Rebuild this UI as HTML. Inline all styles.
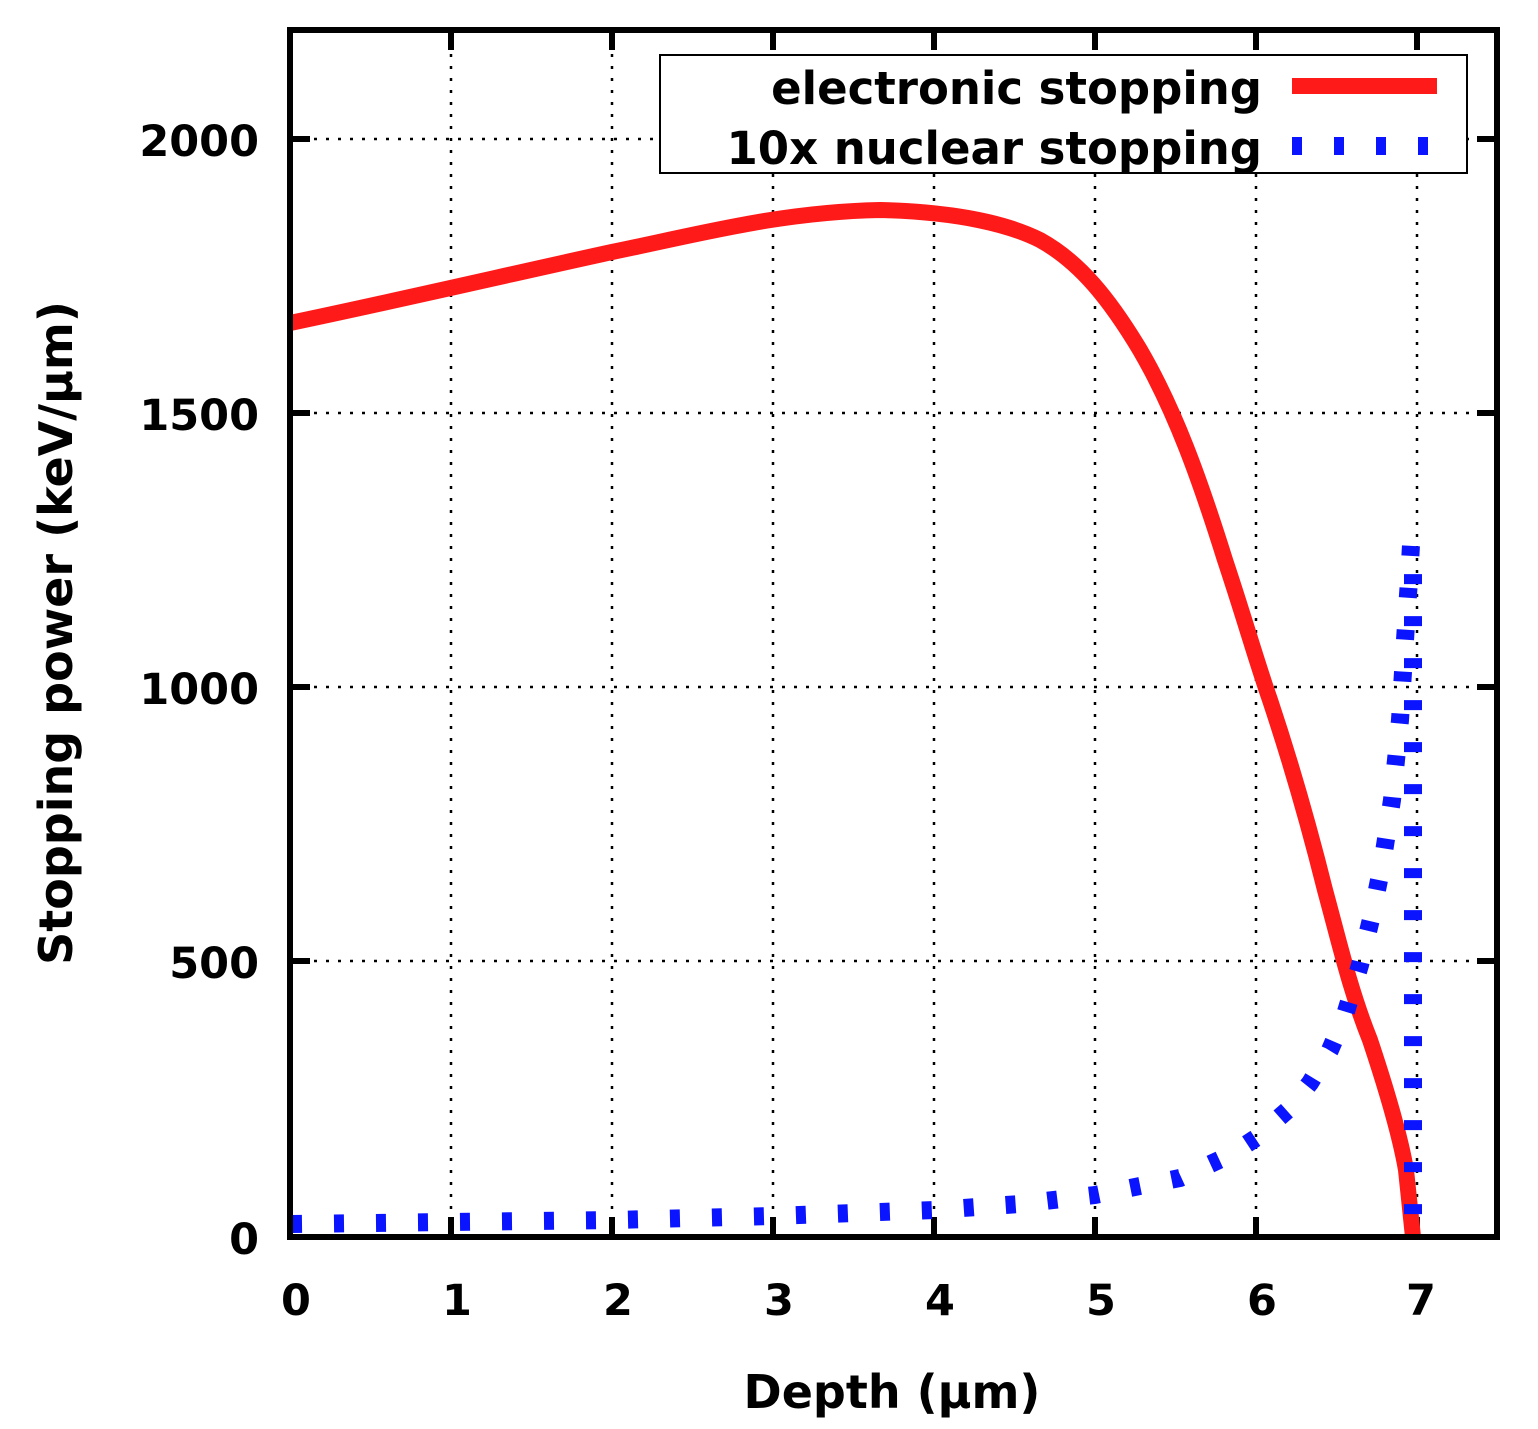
<!DOCTYPE html>
<html><head><meta charset="utf-8"><style>
html,body{margin:0;padding:0;background:#fff}
svg{display:block}
text{font-family:"DejaVu Sans","Liberation Sans",sans-serif;font-weight:bold;fill:#000}
</style></head><body>
<svg width="1538" height="1429" viewBox="0 0 1538 1429" xmlns="http://www.w3.org/2000/svg">
<g stroke="#000" stroke-width="2.5" stroke-dasharray="3 9" fill="none">
<line x1="451" y1="30" x2="451" y2="1237"/>
<line x1="612" y1="30" x2="612" y2="1237"/>
<line x1="773" y1="30" x2="773" y2="1237"/>
<line x1="934" y1="30" x2="934" y2="1237"/>
<line x1="1095" y1="30" x2="1095" y2="1237"/>
<line x1="1256" y1="30" x2="1256" y2="1237"/>
<line x1="1417" y1="30" x2="1417" y2="1237"/>
<line x1="290" y1="961" x2="1497" y2="961"/>
<line x1="290" y1="687" x2="1497" y2="687"/>
<line x1="290" y1="413" x2="1497" y2="413"/>
<line x1="290" y1="139" x2="1497" y2="139"/>
</g>
<g stroke="#000" stroke-width="6">
<line x1="451" y1="1237" x2="451" y2="1217"/><line x1="451" y1="30" x2="451" y2="50"/>
<line x1="612" y1="1237" x2="612" y2="1217"/><line x1="612" y1="30" x2="612" y2="50"/>
<line x1="773" y1="1237" x2="773" y2="1217"/><line x1="773" y1="30" x2="773" y2="50"/>
<line x1="934" y1="1237" x2="934" y2="1217"/><line x1="934" y1="30" x2="934" y2="50"/>
<line x1="1095" y1="1237" x2="1095" y2="1217"/><line x1="1095" y1="30" x2="1095" y2="50"/>
<line x1="1256" y1="1237" x2="1256" y2="1217"/><line x1="1256" y1="30" x2="1256" y2="50"/>
<line x1="1417" y1="1237" x2="1417" y2="1217"/><line x1="1417" y1="30" x2="1417" y2="50"/>
<line x1="290" y1="961" x2="310" y2="961"/><line x1="1497" y1="961" x2="1477" y2="961"/>
<line x1="290" y1="687" x2="310" y2="687"/><line x1="1497" y1="687" x2="1477" y2="687"/>
<line x1="290" y1="413" x2="310" y2="413"/><line x1="1497" y1="413" x2="1477" y2="413"/>
<line x1="290" y1="139" x2="310" y2="139"/><line x1="1497" y1="139" x2="1477" y2="139"/>
</g>
<path d="M290,323 C400,300 520,272 612,252 C700,234 780,212 880,210 C960,212 1010,225 1040,240 C1080,262 1110,300 1140,350 C1175,410 1200,480 1225,560 C1245,620 1256,660 1270,700 C1290,760 1310,830 1325,890 C1340,945 1350,990 1370,1040 C1385,1085 1400,1135 1406,1170 L1413,1237" fill="none" stroke="#ff1a1a" stroke-width="16" stroke-linejoin="round"/>
<path d="M292,1224 L451,1222 L612,1220 L773,1216 L934,1210 L1020,1204 L1095,1195 L1180,1178 L1230,1155 L1256,1138 L1290,1108 L1310,1083 L1330,1050 L1345,1015 L1360,965 L1372,915 L1382,865 L1392,800 L1400,720 L1405,640 L1409,580 L1411,545 L1413,545 L1413,1237" fill="none" stroke="#0a14ff" stroke-width="18" stroke-dasharray="10 32"/>
<rect x="660" y="55" width="807" height="118" fill="#fff" stroke="#000" stroke-width="2"/>
<text x="1262" y="104" font-size="45" text-anchor="end">electronic stopping</text>
<text x="1262" y="164" font-size="45" text-anchor="end">10x nuclear stopping</text>
<line x1="1292" y1="86" x2="1437" y2="86" stroke="#ff1a1a" stroke-width="16"/>
<line x1="1292" y1="146" x2="1437" y2="146" stroke="#0a14ff" stroke-width="18" stroke-dasharray="10 32"/>
<rect x="290" y="30" width="1207" height="1207" fill="none" stroke="#000" stroke-width="6"/>
<g font-size="43" text-anchor="end">
<text x="259" y="1254">0</text>
<text x="259" y="978">500</text>
<text x="259" y="704">1000</text>
<text x="259" y="430">1500</text>
<text x="259" y="156">2000</text>
</g>
<g font-size="43" text-anchor="middle">
<text x="296" y="1315">0</text>
<text x="457" y="1315">1</text>
<text x="618" y="1315">2</text>
<text x="779" y="1315">3</text>
<text x="940" y="1315">4</text>
<text x="1101" y="1315">5</text>
<text x="1262" y="1315">6</text>
<text x="1421" y="1315">7</text>
</g>
<text x="892" y="1408" font-size="46" text-anchor="middle">Depth (µm)</text>
<text transform="translate(72,633) rotate(-90)" font-size="46" text-anchor="middle">Stopping power (keV/µm)</text>
</svg>
</body></html>
